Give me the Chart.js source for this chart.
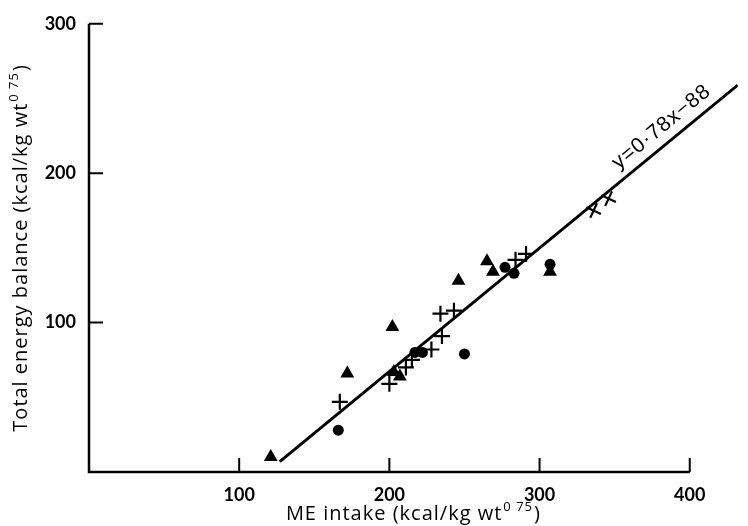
<!DOCTYPE html>
<html>
<head>
<meta charset="utf-8">
<script src="https://cdn.jsdelivr.net/npm/chart.js@4"></script>
<style>
  html, body { margin: 0; padding: 0; background: #fff; }
  #wrap { width: 748px; height: 526px; }
</style>
</head>
<body>
<div id="wrap"><canvas id="chart" width="748" height="526"></canvas></div>
<script>
// ME intake (x) against total energy balance (y)
var triangleX = [121, 172, 202, 203, 207, 246, 265, 269, 307];
var triangleY = [10, 66, 97, 67, 64, 128, 141, 134, 134];
var circleX = [166, 217, 222, 250, 277, 283, 307];
var circleY = [28, 80, 80, 79, 137, 133, 139];
var crossX = [167, 200, 211, 215, 228, 235, 234, 243, 284, 291, 336, 346];
var crossY = [47, 59, 70, 75, 82, 91, 106, 108, 142, 146, 175, 183];
var crossTilt = [0, 0, 0, 0, 0, 0, 0, 0, 0, 0, 25, 25];

// fitted line, ends as drawn
var fitX = [127, 432];
var fitY = [7, 259];
var fitLabel = 'y=0·78x\u221288';
var fitLabelAt = 388;

var xTicks = [100, 200, 300, 400];
var yTicks = [100, 200, 300];

function pts(xs, ys) {
    return xs.map(function(x, i) { return {x: x, y: ys[i]}; });
}

// draws a title with a small raised "0 75" part
function titleWithSup(ctx, pre, sup, post, x, y) {
    var big = '20px "Open Sans"', small = '13px "Open Sans"';
    ctx.letterSpacing = '1px';
    ctx.font = big;
    var w1 = ctx.measureText(pre).width, w3 = ctx.measureText(post).width;
    ctx.font = small;
    var w2 = ctx.measureText(sup).width;
    var start = x - (w1 + w2 + w3 + 2) / 2;
    ctx.textAlign = 'left';
    ctx.textBaseline = 'middle';
    ctx.font = big;
    ctx.fillText(pre, start, y);
    ctx.font = small;
    ctx.fillText(sup, start + w1 + 1, y - 7);
    ctx.font = big;
    ctx.fillText(post, start + w1 + w2 + 2, y);
    ctx.letterSpacing = '0px';
}

var axesPlugin = {
    id: 'axes',
    afterDraw: function(chart) {
        var ctx = chart.ctx, xs = chart.scales.x, ys = chart.scales.y;
        var x0 = xs.getPixelForValue(0), y0 = ys.getPixelForValue(0);
        ctx.save();
        ctx.strokeStyle = '#000';
        ctx.fillStyle = '#000';
        ctx.lineWidth = 2.5;
        ctx.beginPath();
        ctx.moveTo(x0, ys.getPixelForValue(300));
        ctx.lineTo(x0, y0);
        ctx.lineTo(xs.getPixelForValue(400), y0);
        ctx.stroke();
        ctx.lineWidth = 2;
        ctx.beginPath();
        yTicks.forEach(function(v) {
            var p = ys.getPixelForValue(v);
            ctx.moveTo(x0, p);
            ctx.lineTo(x0 + 14, p);
        });
        xTicks.forEach(function(v) {
            var p = xs.getPixelForValue(v);
            ctx.moveTo(p, y0);
            ctx.lineTo(p, y0 - 14);
        });
        ctx.stroke();

        // axis titles
        titleWithSup(ctx, 'ME intake (kcal/kg wt', '0 75', ')', (chart.chartArea.left + chart.chartArea.right) / 2, 514);
        ctx.save();
        ctx.translate(21, (chart.chartArea.top + chart.chartArea.bottom) / 2);
        ctx.rotate(-Math.PI / 2);
        titleWithSup(ctx, 'Total energy balance (kcal/kg wt', '0 75', ')', 0, 0);
        ctx.restore();

        // equation along the fitted line
        var ax = xs.getPixelForValue(fitX[0]), ay = ys.getPixelForValue(fitY[0]);
        var bx = xs.getPixelForValue(fitX[1]), by = ys.getPixelForValue(fitY[1]);
        var ang = Math.atan2(by - ay, bx - ax);
        var t = (fitLabelAt - fitX[0]) / (fitX[1] - fitX[0]);
        var cx = ax + (bx - ax) * t + Math.sin(ang) * 16;
        var cy = ay + (by - ay) * t - Math.cos(ang) * 16;
        ctx.translate(cx, cy);
        ctx.rotate(ang);
        ctx.font = '21px "Liberation Sans"';
        ctx.letterSpacing = '1px';
        ctx.textAlign = 'center';
        ctx.textBaseline = 'middle';
        ctx.fillText(fitLabel, 0, 0);
        ctx.restore();
    }
};

var tickFont = {family: 'Lato', size: 18, weight: 'bold'};

new Chart(document.getElementById('chart').getContext('2d'), {
    type: 'scatter',
    data: {
        datasets: [{
            data: pts(triangleX, triangleY),
            pointStyle: 'triangle',
            pointRadius: 8,
            backgroundColor: '#000',
            borderColor: '#000',
            borderWidth: 0
        }, {
            data: pts(circleX, circleY),
            pointStyle: 'circle',
            pointRadius: 5.5,
            backgroundColor: '#000',
            borderColor: '#000',
            borderWidth: 0
        }, {
            data: pts(crossX, crossY),
            pointStyle: 'cross',
            pointRadius: 8,
            pointRotation: crossTilt,
            borderColor: '#000',
            borderWidth: 2.2
        }, {
            type: 'line',
            data: pts(fitX, fitY),
            borderColor: '#000',
            borderWidth: 3,
            pointRadius: 0
        }]
    },
    options: {
        responsive: false,
        animation: false,
        layout: {padding: {top: 21, left: 0, right: 0, bottom: 0}},
        plugins: {legend: {display: false}, tooltip: {enabled: false}},
        scales: {
            x: {
                type: 'linear', min: 0, max: 432,
                grid: {display: false, drawTicks: false},
                border: {display: false},
                afterBuildTicks: function(s) { s.ticks = xTicks.map(function(v) { return {value: v}; }); },
                afterFit: function(s) { s.height = 54; },
                ticks: {color: '#000', font: tickFont, padding: 12, maxRotation: 0}
            },
            y: {
                type: 'linear', min: 0, max: 300,
                grid: {display: false, drawTicks: false},
                border: {display: false},
                afterBuildTicks: function(s) { s.ticks = yTicks.map(function(v) { return {value: v}; }); },
                afterFit: function(s) { s.width = 89; },
                ticks: {color: '#000', font: tickFont, padding: 13}
            }
        }
    },
    plugins: [axesPlugin]
});
</script>
</body>
</html>
